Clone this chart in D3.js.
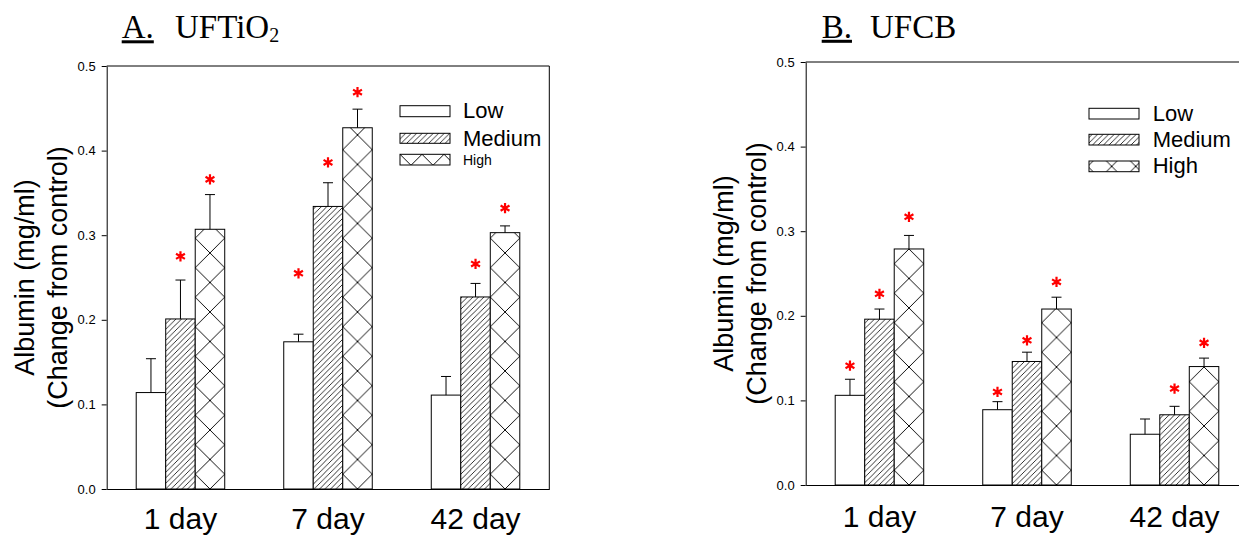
<!DOCTYPE html>
<html><head><meta charset="utf-8">
<script src="https://cdn.jsdelivr.net/npm/d3@7"></script>
<style>body{margin:0;background:#fff}</style>
</head><body>
<svg id="chart" width="1239" height="535" xmlns="http://www.w3.org/2000/svg"></svg>
<script>
// ---------- data ----------
const categories = ["1 day", "7 day", "42 day"];
const seriesNames = ["Low", "Medium", "High"];
const yTickValues = [0.0, 0.1, 0.2, 0.3, 0.4, 0.5];
const yTitleLines = ["Albumin (mg/ml)", "(Change from control)"];

// Panel A: UFTiO2
const aLow = [0.114, 0.174, 0.111];
const aMedium = [0.201, 0.334, 0.227];
const aHigh = [0.307, 0.427, 0.303];
const aLowErr = [0.040, 0.009, 0.022];
const aMediumErr = [0.046, 0.028, 0.016];
const aHighErr = [0.041, 0.022, 0.008];
const aLowStar = [null, 0.255, null];
const aMediumStar = [0.275, 0.386, 0.266];
const aHighStar = [0.366, 0.469, 0.332];

// Panel B: UFCB
const bLow = [0.106, 0.089, 0.060];
const bMedium = [0.196, 0.146, 0.083];
const bHigh = [0.279, 0.208, 0.140];
const bLowErr = [0.019, 0.0095, 0.018];
const bMediumErr = [0.012, 0.011, 0.010];
const bHighErr = [0.016, 0.014, 0.010];
const bLowStar = [0.141, 0.110, null];
const bMediumStar = [0.226, 0.171, 0.114];
const bHighStar = [0.317, 0.240, 0.168];

// ---------- layout ----------
const svg = d3.select("#chart");
const defs = svg.append("defs");
const SANS = "'Liberation Sans', Arial, Helvetica, sans-serif";
const SERIF = "'Liberation Serif', 'Times New Roman', serif";

const panels = [
  {
    id: "A", letter: "A.", name: "UFTiO", sub: "2",
    titleX: 121.7, nameX: 175, titleBase: 38,
    left: 106.7, right: 549.3, top: 66, bottom: 489, frameRight: true,
    xLabelPad: 19,
    values: [aLow, aMedium, aHigh], errs: [aLowErr, aMediumErr, aHighErr],
    stars: [aLowStar, aMediumStar, aHighStar],
    legendX: 400, legendTextX: 463,
    legendRows: [
      {y: 105.7, h: 11, ty: 118.3, fs: 22},
      {y: 133.3, h: 10, ty: 146, fs: 22},
      {y: 154.3, h: 10.7, ty: 165, fs: 14}
    ],
    legXH: {size: 22, x: 400}
  },
  {
    id: "B", letter: "B.", name: "UFCB", sub: null,
    titleX: 821.7, nameX: 870, titleBase: 37.5,
    left: 805.7, right: 1248.3, top: 62, bottom: 485, frameRight: true,
    xLabelPad: 21,
    values: [bLow, bMedium, bHigh], errs: [bLowErr, bMediumErr, bHighErr],
    stars: [bLowStar, bMediumStar, bHighStar],
    legendX: 1089, legendTextX: 1152.7,
    legendRows: [
      {y: 108.3, h: 10.7, ty: 121, fs: 22},
      {y: 134.3, h: 10.7, ty: 146.7, fs: 22},
      {y: 161, h: 10.7, ty: 173.3, fs: 22}
    ],
    legXH: {size: 24, x: 1099.7}
  }
];

// diagonal hatch pattern (shared)
const H = 5.5;
const hatch = defs.append("pattern").attr("id", "hatch")
  .attr("patternUnits", "userSpaceOnUse").attr("width", H).attr("height", H);
hatch.append("rect").attr("width", H).attr("height", H).attr("fill", "#fff");
hatch.append("path").attr("d", `M0,${H} L${H},0 M-1,1 L1,-1 M${H - 1},${H + 1} L${H + 1},${H - 1}`)
  .attr("stroke", "#000").attr("stroke-width", 0.8);

function crossPattern(id, size, px, py) {
  const p = defs.append("pattern").attr("id", id)
    .attr("patternUnits", "userSpaceOnUse")
    .attr("x", px).attr("y", py).attr("width", size).attr("height", size);
  p.append("rect").attr("width", size).attr("height", size).attr("fill", "#fff");
  p.append("path").attr("d", `M0,0 L${size},${size} M${size},0 L0,${size}`)
    .attr("stroke", "#000").attr("stroke-width", 0.95);
}

panels.forEach(P => {
  const x = d3.scaleBand().domain(categories).range([P.left, P.right])
    .paddingInner(0.4).paddingOuter(0.2);
  const xs = d3.scaleBand().domain(seriesNames).range([0, x.bandwidth()]);
  const y = d3.scaleLinear().domain([0, 0.5]).range([P.bottom, P.top]);
  const bw = xs.bandwidth();

  crossPattern("cross" + P.id, bw, x(categories[0]) + 2 * bw, P.bottom - bw / 2);
  const lx = P.legXH;
  const legRowH = P.legendRows[2];
  const legY = P.id === "A" ? legRowH.y : (legRowH.y + legRowH.h / 2 - lx.size / 2);
  crossPattern("legcross" + P.id, lx.size, lx.x, legY);

  const fills = ["#fff", "url(#hatch)", `url(#cross${P.id})`];
  const legFills = ["#fff", "url(#hatch)", `url(#legcross${P.id})`];

  const g = svg.append("g");

  // bars
  seriesNames.forEach((s, si) => {
    const vals = P.values[si];
    g.selectAll(null).data(categories).enter().append("rect")
      .attr("x", c => x(c) + xs(s))
      .attr("y", (c, i) => y(vals[i]))
      .attr("width", bw)
      .attr("height", (c, i) => y(0) - y(vals[i]))
      .attr("fill", fills[si])
      .attr("stroke", "#000").attr("stroke-width", 1);
  });

  // error bars (upper only)
  seriesNames.forEach((s, si) => {
    const vals = P.values[si], errs = P.errs[si];
    const cx = c => x(c) + xs(s) + bw / 2;
    g.selectAll(null).data(categories).enter().append("path")
      .attr("d", (c, i) => {
        const xc = cx(c), y0 = y(vals[i]), y1 = y(vals[i] + errs[i]);
        return `M${xc},${y0} L${xc},${y1} M${xc - 5},${y1} L${xc + 5},${y1}`;
      })
      .attr("fill", "none").attr("stroke", "#000").attr("stroke-width", 1);
  });

  // significance stars
  const star = d3.symbol().type(d3.symbolAsterisk).size(74);
  seriesNames.forEach((s, si) => {
    const st = P.stars[si];
    const items = categories.map((c, i) => ({c, v: st[i]})).filter(d => d.v != null);
    g.selectAll(null).data(items).enter().append("path")
      .attr("d", star)
      .attr("transform", d => `translate(${x(d.c) + xs(s) + bw / 2},${y(d.v)})`)
      .attr("fill", "none").attr("stroke", "#ff0000").attr("stroke-width", 2.2);
  });

  // frame
  g.append("line").attr("x1", P.left).attr("x2", P.right).attr("y1", P.top).attr("y2", P.top)
    .attr("stroke", "#000").attr("stroke-width", 1);
  if (P.frameRight) {
    g.append("line").attr("x1", P.right).attr("x2", P.right).attr("y1", P.top).attr("y2", P.bottom)
      .attr("stroke", "#000").attr("stroke-width", 1);
  }

  // y axis
  const ya = g.append("g").attr("transform", `translate(${P.left},0)`)
    .call(d3.axisLeft(y).tickValues(yTickValues).tickFormat(d3.format(".1f"))
      .tickSize(5).tickSizeOuter(0).tickPadding(6));
  ya.select(".domain").attr("stroke", "#000");
  ya.selectAll(".tick line").attr("stroke", "#000");
  ya.selectAll("text").attr("font-family", SANS).attr("font-size", 13).attr("fill", "#000");

  // x axis
  const xa = g.append("g").attr("transform", `translate(0,${P.bottom})`)
    .call(d3.axisBottom(x).tickSize(0).tickSizeOuter(0).tickPadding(P.xLabelPad));
  xa.select(".domain").attr("stroke", "#000").attr("stroke-width", 1.2);
  xa.selectAll("text").attr("font-family", SANS).attr("font-size", 30).attr("fill", "#000");

  // y title
  const cy = (P.top + P.bottom) / 2;
  yTitleLines.forEach((t, li) => {
    const bx = P.left - (li === 0 ? 73 : 40);
    g.append("text").attr("transform", `translate(${bx},${cy}) rotate(-90)`)
      .attr("text-anchor", "middle").attr("font-family", SANS).attr("font-size", 27)
      .attr("fill", "#000").text(t);
  });

  // title
  const tl = g.append("text").attr("x", P.titleX).attr("y", P.titleBase)
    .attr("font-family", SERIF).attr("font-size", 33).attr("fill", "#000").text(P.letter);
  const tlw = tl.node().getComputedTextLength();
  g.append("rect").attr("x", P.titleX).attr("y", P.titleBase + 2.3).attr("width", tlw).attr("height", 3)
    .attr("fill", "#000");
  const tn = g.append("text").attr("x", P.nameX).attr("y", P.titleBase)
    .attr("font-family", SERIF).attr("font-size", 33).attr("fill", "#000");
  tn.append("tspan").text(P.name);
  if (P.sub) tn.append("tspan").attr("dy", 4).attr("font-size", 20).text(P.sub);

  // legend
  const lg = g.append("g");
  seriesNames.forEach((s, si) => {
    const r = P.legendRows[si];
    lg.append("rect").attr("x", P.legendX).attr("y", r.y).attr("width", 50).attr("height", r.h)
      .attr("fill", legFills[si]).attr("stroke", "#000").attr("stroke-width", 1);
    lg.append("text").attr("x", P.legendTextX).attr("y", r.ty)
      .attr("font-family", SANS).attr("font-size", r.fs).attr("fill", "#000").text(s);
  });
});
</script>
</body></html>
